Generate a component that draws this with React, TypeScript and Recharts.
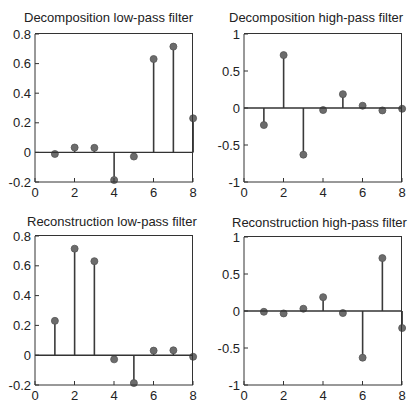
import { ComposedChart, Bar, XAxis, YAxis, ReferenceLine } from 'recharts';

// filter taps (sample index 1..8)
const SAMPLES = [1, 2, 3, 4, 5, 6, 7, 8];
const DEC_LOW = [-0.0106, 0.0329, 0.0308, -0.187, -0.028, 0.6309, 0.7148, 0.2304];
const DEC_HIGH = [-0.2304, 0.7148, -0.6309, -0.028, 0.187, 0.0308, -0.0329, -0.0106];
const REC_LOW = [0.2304, 0.7148, 0.6309, -0.028, -0.187, 0.0308, 0.0329, -0.0106];
const REC_HIGH = [-0.0106, -0.0329, 0.0308, 0.187, -0.028, -0.6309, 0.7148, -0.2304];

const X_TICKS = [0, 2, 4, 6, 8];
const LOW_TICKS = [-0.2, 0, 0.2, 0.4, 0.6, 0.8];
const HIGH_TICKS = [-1, -0.5, 0, 0.5, 1];

const TITLES = [
  'Decomposition low-pass filter',
  'Decomposition high-pass filter',
  'Reconstruction low-pass filter',
  'Reconstruction high-pass filter',
];

const FONT = '"Liberation Sans", Arial, sans-serif';
const INK = '#333';

// stem: line from baseline to value, dot at the value
function Stem(props: any) {
  const { x, y, width, height, payload } = props;
  if (x == null || y == null) return null;
  const cx = x + width / 2;
  const a = y;
  const b = y + height;
  const pos = payload.v >= 0;
  const tip = pos ? Math.min(a, b) : Math.max(a, b);
  const base = pos ? Math.max(a, b) : Math.min(a, b);
  return (
    <g>
      <line x1={cx} x2={cx} y1={base} y2={tip} stroke="#3a3a3a" strokeWidth={1.6} />
      <circle cx={cx} cy={tip} r={3.5} fill="#6c6c6c" stroke="#555" strokeWidth={0.8} />
    </g>
  );
}

interface PanelProps {
  values: number[];
  yTicks: number[];
  left: number;
  top: number;
  width: number;
  height: number;
  margin: { top: number; right: number; bottom: number; left: number };
}

function Panel({ values, yTicks, left, top, width, height, margin }: PanelProps) {
  const data = SAMPLES.map((n, i) => ({ n, v: values[i] }));
  const yMin = yTicks[0];
  const yMax = yTicks[yTicks.length - 1];
  const tickStyle = { fill: '#222', fontSize: 13, fontFamily: FONT };
  // plot box (inside the 1px axes), for the top/right frame lines
  const plotW = width - margin.left - margin.right - 1;
  const plotH = height - margin.top - margin.bottom - 1;
  return (
    <div style={{ position: 'absolute', left, top, width, height }}>
      <ComposedChart width={width} height={height} data={data} margin={margin}>
        <XAxis
          dataKey="n"
          type="number"
          domain={[0, 8]}
          ticks={X_TICKS}
          height={1}
          tickSize={-4}
          tickMargin={10}
          stroke={INK}
          tick={tickStyle}
          interval={0}
        />
        <YAxis
          type="number"
          domain={[yMin, yMax]}
          ticks={yTicks}
          width={1}
          tickSize={-4}
          tickMargin={8}
          stroke={INK}
          tick={tickStyle}
          interval={0}
        />
        <ReferenceLine y={0} stroke={INK} strokeWidth={1.4} />
        <Bar dataKey="v" barSize={4} shape={Stem} isAnimationActive={false} />
      </ComposedChart>
      <div
        style={{
          position: 'absolute',
          left: margin.left + 1,
          top: margin.top - 1,
          width: plotW,
          height: plotH + 1,
          borderTop: `1px solid ${INK}`,
          borderRight: `1px solid ${INK}`,
          boxSizing: 'border-box',
          pointerEvents: 'none',
        }}
      />
    </div>
  );
}

function Title({ text, left, top }: { text: string; left: number; top: number }) {
  return (
    <div
      style={{
        position: 'absolute',
        left,
        top,
        fontFamily: FONT,
        fontSize: 13,
        lineHeight: '14px',
        color: '#222',
        whiteSpace: 'nowrap',
      }}
    >
      {text}
    </div>
  );
}

export default function App() {
  return (
    <div
      style={{
        position: 'absolute',
        left: 0,
        top: 0,
        width: 411,
        height: 401,
        background: '#fff',
        overflow: 'hidden',
      }}
    >
      <Title text={TITLES[0]} left={24} top={11} />
      <Title text={TITLES[1]} left={229} top={11} />
      <Title text={TITLES[2]} left={27} top={215} />
      <Title text={TITLES[3]} left={232} top={216} />
      <Panel
        values={DEC_LOW}
        yTicks={LOW_TICKS}
        left={0}
        top={0}
        width={205}
        height={200}
        margin={{ top: 34, right: 12, bottom: 17, left: 34 }}
      />
      <Panel
        values={DEC_HIGH}
        yTicks={HIGH_TICKS}
        left={205}
        top={0}
        width={206}
        height={200}
        margin={{ top: 34, right: 9, bottom: 17, left: 38 }}
      />
      <Panel
        values={REC_LOW}
        yTicks={LOW_TICKS}
        left={0}
        top={200}
        width={205}
        height={201}
        margin={{ top: 36, right: 12, bottom: 15, left: 34 }}
      />
      <Panel
        values={REC_HIGH}
        yTicks={HIGH_TICKS}
        left={205}
        top={200}
        width={206}
        height={201}
        margin={{ top: 37, right: 9, bottom: 15, left: 38 }}
      />
    </div>
  );
}
